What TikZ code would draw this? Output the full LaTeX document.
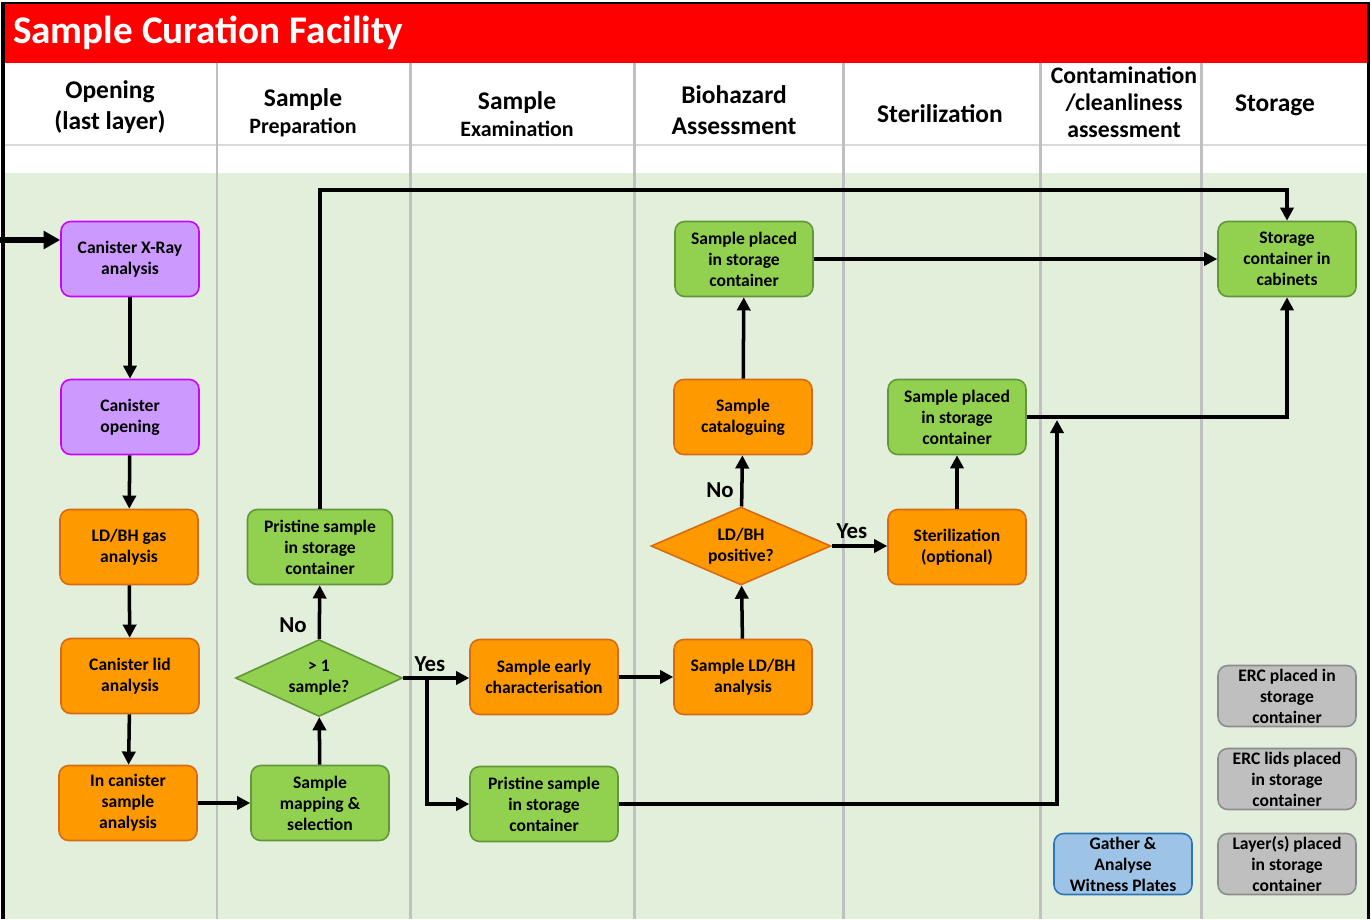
\documentclass[tikz,border=0pt]{standalone}
\usepackage{fontspec}
\setmainfont{Carlito}
\usetikzlibrary{arrows.meta,shapes.geometric}
\definecolor{titlered}{HTML}{FF0000}
\definecolor{lanebg}{HTML}{E2EFDA}
\definecolor{lanegray}{HTML}{C0C0C0}
\definecolor{rulegray}{HTML}{D9D9D9}
\definecolor{purplefill}{HTML}{CC99FF}
\definecolor{purpleline}{HTML}{CC00FF}
\definecolor{orangefill}{HTML}{FF9900}
\definecolor{orangeline}{HTML}{D86A13}
\definecolor{greenfill}{HTML}{92D050}
\definecolor{greenline}{HTML}{63963A}
\definecolor{grayfill}{HTML}{BFBFBF}
\definecolor{grayline}{HTML}{8C8C8C}
\definecolor{bluefill}{HTML}{9DC3E6}
\definecolor{blueline}{HTML}{2E75B6}
\begin{document}
\begin{tikzpicture}[x=0.02cm, y=-0.02cm, inner sep=1pt,
    box/.style={draw, rounded corners=5.5pt, line width=0.9pt, align=center,
      minimum width=2.76cm, minimum height=1.5cm,
      font=\bfseries\fontsize{10}{12}\selectfont},
    purplebox/.style={box, fill=purplefill, draw=purpleline},
    orangebox/.style={box, fill=orangefill, draw=orangeline},
    greenbox/.style={box, fill=greenfill, draw=greenline},
    graybox/.style={box, fill=grayfill, draw=grayline, minimum height=1.22cm},
    bluebox/.style={box, fill=bluefill, draw=blueline, minimum height=1.22cm},
    decision/.style={diamond, draw, line width=0.9pt, align=center, inner sep=0pt,
      aspect=2.3, font=\bfseries\fontsize{10}{12}\selectfont},
    lanehead/.style={align=center, font=\bfseries\fontsize{14.5}{17.5}\selectfont},
    answer/.style={font=\bfseries\fontsize{13}{15}\selectfont},
    arr/.style={line width=2pt, -{Triangle[length=7.5pt,width=7.5pt]}},
    bigarr/.style={line width=3pt, -{Triangle[length=9.5pt,width=10pt]}}]
  \useasboundingbox (0,0) rectangle (1371,919);
  \fill[lanebg] (3,173) rectangle (1368,919);
  \fill[titlered] (3,3) rectangle (1368,63);
  \draw[rulegray, line width=1.7pt] (3,145) -- (1368,145);
  \foreach \lx in {217,410,634,843,1040,1201}
    \draw[lanegray, line width=1.7pt] (\lx,63) -- (\lx,919);
  \draw[line width=1.7pt] (1368,919) -- (1368,3) -- (3,3);
  \draw[line width=2.4pt] (3,2) -- (3,919);
  \node[anchor=west, text=white, font=\bfseries\fontsize{22.3}{26}\selectfont] (title) at (11,33) {Sample Curation Facility};
  \node[lanehead] (h1) at (110,107) {Opening\\(last layer)};
  \node[lanehead] (h2) at (303,113) {Sample\\[-2pt]{\fontsize{12.5}{15}\selectfont Preparation}};
  \node[lanehead] (h3) at (517,114) {Sample\\[-2pt]{\fontsize{12.5}{15}\selectfont Examination}};
  \node[lanehead] (h4) at (734,110) {Biohazard\\Assessment};
  \node[lanehead] (h5) at (940,114) {Sterilization};
  \node[lanehead, font=\bfseries\fontsize{13.5}{15.5}\selectfont] (h6) at (1124,102) {Contamination\\/cleanliness\\assessment};
  \node[lanehead] (h7) at (1275,105) {Storage};

  \node[purplebox] (xray) at (130,259) {Canister X-Ray\\analysis};
  \node[purplebox] (open) at (130,417) {Canister\\opening};
  \node[orangebox] (gas) at (129,547) {LD/BH gas\\analysis};
  \node[orangebox] (lid) at (130,676) {Canister lid\\analysis};
  \node[orangebox] (incan) at (128,803) {In canister\\sample\\analysis};
  \node[greenbox] (map) at (320,803) {Sample\\mapping \&\\selection};
  \node[decision, fill=greenfill, draw=greenline, minimum width=3.34cm, minimum height=1.54cm] (many) at (319,678) {> 1\\sample?};
  \node[greenbox, minimum width=2.9cm] (pris1) at (320,547) {Pristine sample\\in storage\\container};
  \node[orangebox, minimum width=2.96cm] (early) at (544,677) {Sample early\\characterisation};
  \node[greenbox, minimum width=2.96cm] (pris2) at (544,804) {Pristine sample\\in storage\\container};
  \node[orangebox] (ldbh) at (743,677) {Sample LD/BH\\analysis};
  \node[decision, fill=orangefill, draw=orangeline, minimum width=3.6cm, minimum height=1.56cm] (positive) at (741,546) {LD/BH\\positive?};
  \node[orangebox] (catal) at (743,417) {Sample\\cataloguing};
  \node[greenbox] (placed1) at (744,259) {Sample placed\\in storage\\container};
  \node[orangebox] (steril) at (957,547) {Sterilization\\(optional)};
  \node[greenbox] (placed2) at (957,417) {Sample placed\\in storage\\container};
  \node[greenbox] (store) at (1287,259) {Storage\\container in\\cabinets};
  \node[graybox] (erc) at (1287,696) {ERC placed in\\storage\\container};
  \node[graybox] (erclids) at (1287,779) {ERC lids placed\\in storage\\container};
  \node[graybox] (layers) at (1287,864) {Layer(s) placed\\in storage\\container};
  \node[bluebox] (witness) at (1123,864) {Gather \&\\Analyse\\Witness Plates};

  \node[answer] (no1) at (293,625) {No};
  \node[answer] (yes1) at (430,664) {Yes};
  \node[answer] (no2) at (720,490) {No};
  \node[answer] (yes2) at (852,531) {Yes};

  \coordinate (entry) at (0,240);
  \coordinate (topline) at (0,190);
  \coordinate (split) at (427,678);
  \coordinate (rise) at (1057,420);
  \draw[bigarr] (entry) -- (entry -| xray.west);
  \draw[arr] (xray) -- (open);
  \draw[arr] (open) -- (gas);
  \draw[arr] (gas) -- (lid);
  \draw[arr] (lid) -- (incan);
  \draw[arr] (incan) -- (map);
  \draw[arr] (map) -- (many);
  \draw[arr] (many) -- (pris1);
  \draw[arr] (pris1.north) -- (pris1.north |- topline) -| (store.north);
  \draw[arr] (many.east) -- (many.east -| early.west);
  \draw[arr] (split) |- (pris2.west);
  \draw[arr] (early) -- (ldbh);
  \draw[arr] (ldbh) -- (positive);
  \draw[arr] (positive) -- (catal);
  \draw[arr] (catal) -- (placed1);
  \draw[arr] (placed1) -- (store);
  \draw[arr] (positive.east) -- (positive.east -| steril.west);
  \draw[arr] (steril) -- (placed2);
  \draw[arr] (placed2.east) -| (store.south);
  \draw[arr] (pris2.east) -| (rise);
\end{tikzpicture}
\end{document}
